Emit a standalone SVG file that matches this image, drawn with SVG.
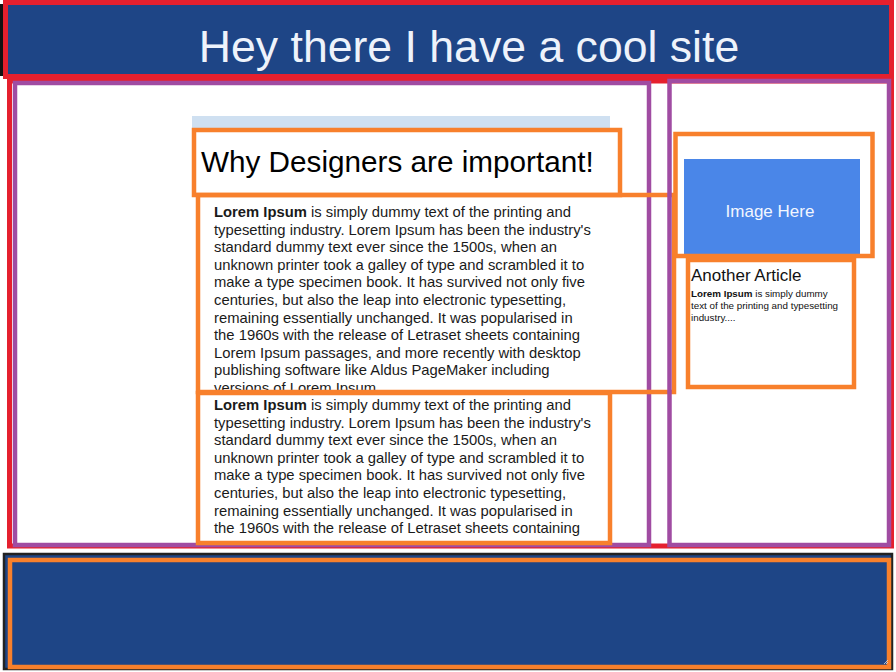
<svg xmlns="http://www.w3.org/2000/svg" width="896" height="672" viewBox="0 0 896 672">
<style>
.red{fill:none;stroke:#e5202e;stroke-width:5}
.pur{fill:none;stroke:#a04ca2;stroke-width:4.5}
.org{fill:none;stroke:#f8802c;stroke-width:4.5}
.body{font-family:"Liberation Sans",Arial,sans-serif;font-size:14.8px;fill:#1a1a1a}
.b{font-weight:bold}
</style>
<defs>
<clipPath id="c1"><rect x="198" y="197" width="476" height="193"/></clipPath>
<clipPath id="c2"><rect x="198" y="395" width="412" height="146"/></clipPath>
</defs>
<rect width="896" height="672" fill="#ffffff"/>
<g id="header">
<rect x="0" y="4" width="4" height="72" fill="#111"/>
<rect x="5.5" y="2.5" width="886" height="74" fill="#1e4586"/>
<rect x="5.5" y="2.5" width="886" height="74" class="red"/>
<text x="469" y="62" text-anchor="middle" font-family="Liberation Sans, Arial, sans-serif" font-size="44.6" fill="#eef3fb">Hey there I have a cool site</text>
</g>
<g id="main">
<rect x="9.5" y="81" width="882" height="465" class="red"/>
<rect x="15" y="83" width="634" height="462" class="pur"/>
</g>
<g id="band"><rect x="192" y="116" width="418" height="13" fill="#cfe0f1"/></g>
<g id="heading">
<rect x="194" y="130" width="426" height="65" class="org"/>
<text x="201" y="172" font-family="Liberation Sans, Arial, sans-serif" font-size="29.7" fill="#000">Why Designers are important!</text>
</g>
<g id="article1">
<g clip-path="url(#c1)" class="body">
<text x="214" y="217"><tspan class="b">Lorem Ipsum</tspan> is simply dummy text of the printing and</text>
<text x="214" y="234.6">typesetting industry. Lorem Ipsum has been the industry's</text>
<text x="214" y="252.2">standard dummy text ever since the 1500s, when an</text>
<text x="214" y="269.8">unknown printer took a galley of type and scrambled it to</text>
<text x="214" y="287.4">make a type specimen book. It has survived not only five</text>
<text x="214" y="305">centuries, but also the leap into electronic typesetting,</text>
<text x="214" y="322.6">remaining essentially unchanged. It was popularised in</text>
<text x="214" y="340.2">the 1960s with the release of Letraset sheets containing</text>
<text x="214" y="357.8">Lorem Ipsum passages, and more recently with desktop</text>
<text x="214" y="375.4">publishing software like Aldus PageMaker including</text>
<text x="214" y="393">versions of Lorem Ipsum.</text>
</g>
<rect x="198" y="195" width="476" height="197" class="org"/>
</g>
<g id="article2">
<g clip-path="url(#c2)" class="body">
<text x="214" y="410"><tspan class="b">Lorem Ipsum</tspan> is simply dummy text of the printing and</text>
<text x="214" y="427.6">typesetting industry. Lorem Ipsum has been the industry's</text>
<text x="214" y="445.2">standard dummy text ever since the 1500s, when an</text>
<text x="214" y="462.8">unknown printer took a galley of type and scrambled it to</text>
<text x="214" y="480.4">make a type specimen book. It has survived not only five</text>
<text x="214" y="498">centuries, but also the leap into electronic typesetting,</text>
<text x="214" y="515.6">remaining essentially unchanged. It was popularised in</text>
<text x="214" y="533.2">the 1960s with the release of Letraset sheets containing</text>
</g>
<rect x="198" y="393" width="412" height="150" class="org"/>
</g>
<g id="sidebar">
<rect x="669.5" y="81" width="219.5" height="464" class="pur"/>
</g>
<g id="image">
<rect x="684" y="159" width="176" height="96" fill="#4a86e8"/>
<text x="770" y="217" text-anchor="middle" font-family="Liberation Sans, Arial, sans-serif" font-size="17" fill="#f2f6ff">Image Here</text>
<rect x="675.5" y="134" width="197" height="122" class="org"/>
</g>
<g id="another">
<rect x="688" y="260" width="166" height="127" class="org"/>
<text x="691" y="281" font-family="Liberation Sans, Arial, sans-serif" font-size="17" fill="#111">Another Article</text>
<g font-family="Liberation Sans, Arial, sans-serif" font-size="9.8" fill="#111">
<text x="691" y="297"><tspan font-weight="bold">Lorem Ipsum</tspan> is simply dummy</text>
<text x="691" y="309">text of the printing and typesetting</text>
<text x="691" y="321">industry....</text>
</g>
</g>
<g id="footer">
<rect x="4" y="554" width="888" height="115" fill="#1e4586" stroke="#222" stroke-width="2.5"/>
<rect x="10" y="560" width="879" height="107" class="org"/>
<path d="M884 664 L888 660 M886 664 L888 662" stroke="#ddd" stroke-width="0.8"/>
</g>
</svg>
